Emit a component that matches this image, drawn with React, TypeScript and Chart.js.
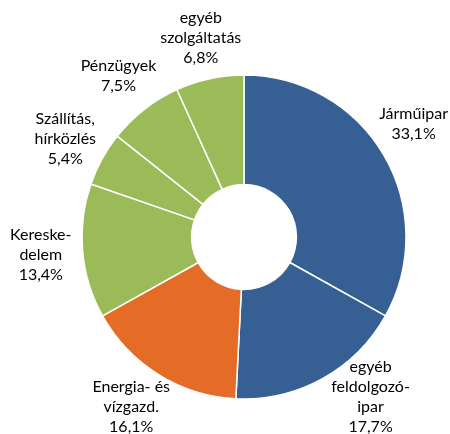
import React, { useEffect, useRef } from "react";
import { Chart, registerables } from "chart.js";

Chart.register(...registerables);

const categories = [
  "Járműipar",
  "egyéb\nfeldolgozó-\nipar",
  "Energia- és\nvízgazd.",
  "Kereske-\ndelem",
  "Szállítás,\nhírközlés",
  "Pénzügyek",
  "egyéb\nszolgáltatás",
];
const shares = [33.1, 17.7, 16.1, 13.4, 5.4, 7.5, 6.8];
const sliceColors = ["#366093", "#366093", "#E46C26", "#9BBB59", "#9BBB59", "#9BBB59", "#9BBB59"];

const W = 450;
const H = 434;
const FONT = "16px Lato";
const LINE_H = 20;
const LABEL_GAP = 42;

const labelPlugin = {
  id: "outerLabels",
  afterDraw(chart: any) {
    const ctx = chart.ctx;
    const meta = chart.getDatasetMeta(0);
    ctx.save();
    ctx.font = FONT;
    ctx.fillStyle = "#000";
    ctx.textAlign = "center";
    ctx.textBaseline = "middle";
    meta.data.forEach((arc: any, i: number) => {
      const { x, y, startAngle, endAngle, outerRadius } = arc.getProps(
        ["x", "y", "startAngle", "endAngle", "outerRadius"],
        true
      );
      const mid = (startAngle + endAngle) / 2;
      const D = outerRadius + LABEL_GAP;
      const lines = [
        ...categories[i].split("\n"),
        shares[i].toFixed(1).replace(".", ",") + "%",
      ];
      const half = (lines.length * LINE_H) / 2;
      const halfW = Math.max(...lines.map((t) => ctx.measureText(t).width)) / 2;
      let lx = x + D * Math.cos(mid);
      let ly = y + D * Math.sin(mid);
      const maxY = H + 3 - half;
      const minY = half - 3;
      if (ly > maxY || ly < minY) {
        ly = ly > maxY ? maxY : minY;
        const dy = ly - y;
        const dx = Math.sqrt(Math.max(D * D - dy * dy, 0));
        lx = x + Math.sign(Math.cos(mid)) * dx;
      }
      const maxX = W - 2 - halfW;
      const minX = halfW + 2;
      if (lx > maxX || lx < minX) {
        lx = lx > maxX ? maxX : minX;
        const dx = lx - x;
        const dy = Math.sqrt(Math.max(D * D - dx * dx, 0));
        ly = y + Math.sign(Math.sin(mid)) * dy;
      }
      lines.forEach((t, k) => {
        ctx.fillText(t, lx, ly - half + LINE_H / 2 + k * LINE_H);
      });
    });
    ctx.restore();
  },
};

export default function App() {
  const ref = useRef<HTMLCanvasElement>(null);
  useEffect(() => {
    document.body.style.margin = "0";
    const chart = new Chart(ref.current!, {
      type: "doughnut",
      data: {
        labels: categories,
        datasets: [
          {
            data: shares,
            backgroundColor: sliceColors,
            borderColor: "#ffffff",
            borderWidth: 1.5,
            radius: 162,
            cutout: 57,
          } as any,
        ],
      },
      options: {
        responsive: false,
        animation: false,
        layout: { padding: { left: 60, right: 22, top: 60, bottom: 20 } },
        plugins: {
          legend: { display: false },
          tooltip: { enabled: false },
        },
      },
      plugins: [labelPlugin],
    });
    return () => chart.destroy();
  }, []);
  return (
    <canvas
      ref={ref}
      width={W}
      height={H}
      style={{ display: "block", width: W, height: H }}
    />
  );
}
